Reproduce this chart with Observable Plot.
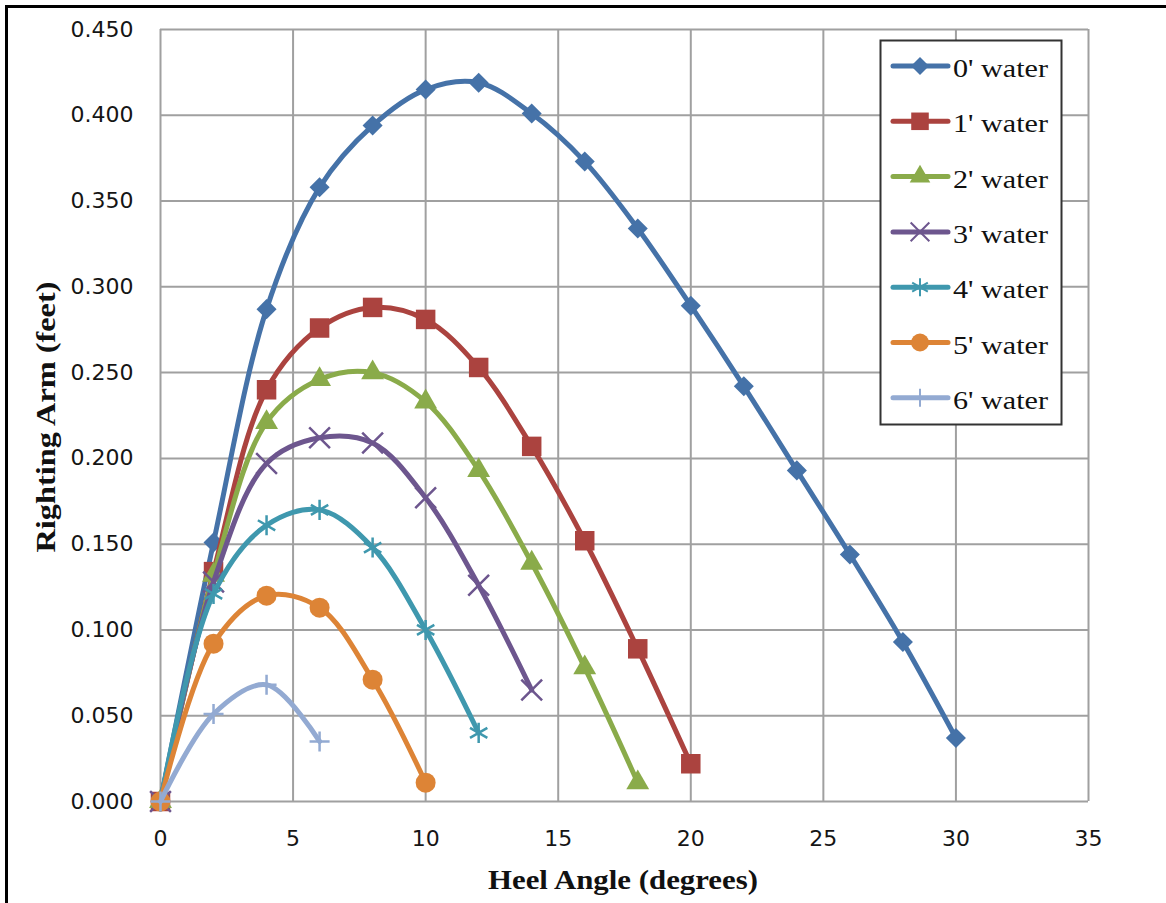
<!DOCTYPE html>
<html>
<head>
<meta charset="utf-8">
<script src="https://cdn.jsdelivr.net/npm/d3@7"></script>
<script src="https://cdn.jsdelivr.net/npm/@observablehq/plot@0.6"></script>
<style>
  html, body { margin: 0; padding: 0; background: #fff; }
  #wrap { position: relative; width: 1166px; height: 903px; overflow: hidden; background: #fff; }
  #wrap > svg { position: absolute; left: 0; top: 0; }
  #frame { position: absolute; left: 5px; top: 5px; width: 1161px; height: 898px;
           border-top: 3px solid #000; border-left: 3px solid #000; box-sizing: border-box; pointer-events: none; }
</style>
</head>
<body>
<div id="wrap"><div id="frame"></div></div>
<script>
// ---- data ----
const angles = [0, 2, 4, 6, 8, 10, 12, 14, 16, 18, 20, 22, 24, 26, 28, 30];
const water0 = [0, 0.151, 0.287, 0.358, 0.394, 0.415, 0.419, 0.401, 0.373, 0.334, 0.289, 0.242, 0.193, 0.144, 0.093, 0.037];
const water1 = [0, 0.134, 0.240, 0.276, 0.288, 0.281, 0.253, 0.207, 0.152, 0.089, 0.022];
const water2 = [0, 0.132, 0.221, 0.246, 0.250, 0.233, 0.193, 0.139, 0.078, 0.011];
const water3 = [0, 0.128, 0.197, 0.212, 0.209, 0.177, 0.126, 0.065];
const water4 = [0, 0.121, 0.161, 0.170, 0.148, 0.100, 0.040];
const water5 = [0, 0.092, 0.120, 0.113, 0.071, 0.011];
const water6 = [0, 0.051, 0.068, 0.035];
const seriesNames = ["0' water", "1' water", "2' water", "3' water", "4' water", "5' water", "6' water"];
const xTicks = [0, 5, 10, 15, 20, 25, 30, 35];
const yTicks = [0, 0.05, 0.10, 0.15, 0.20, 0.25, 0.30, 0.35, 0.40, 0.45];
const xLabel = "Heel Angle (degrees)";
const yLabel = "Righting Arm (feet)";

// ---- styles ----
const seriesValues = [water0, water1, water2, water3, water4, water5, water6];
const colors = ["#4572a8", "#ab433f", "#8aab4a", "#6d568e", "#3f98ae", "#dd8436", "#93aad2"];
const diamond = {
  draw(ctx, size) {
    const r = Math.sqrt(size / 2);
    ctx.moveTo(0, -r); ctx.lineTo(r, 0); ctx.lineTo(0, r); ctx.lineTo(-r, 0); ctx.closePath();
  }
};
const markers = [
  {symbol: diamond, r: 8, filled: true},
  {symbol: "square", r: 11, filled: true},
  {symbol: "triangle", r: 8.5, filled: true},
  {symbol: "times", r: 9.5, filled: false},
  {symbol: "asterisk", r: 9.5, filled: false},
  {symbol: "circle", r: 10, filled: true},
  {symbol: "plus", r: 6.5, filled: false}
];

const marks = [
  Plot.ruleX(xTicks, {stroke: "#a0a0a0", strokeWidth: 2}),
  Plot.ruleY(yTicks, {stroke: "#a0a0a0", strokeWidth: 2})
];
seriesValues.forEach((vals, i) => {
  const rows = vals.map((v, j) => ({angle: angles[j], arm: v}));
  const c = colors[i], m = markers[i];
  marks.push(Plot.line(rows, {x: "angle", y: "arm", stroke: c, strokeWidth: 5, curve: "catmull-rom", strokeLinecap: "round"}));
  marks.push(Plot.dot(rows, m.filled
    ? {x: "angle", y: "arm", symbol: m.symbol, r: m.r, fill: c, stroke: "none"}
    : {x: "angle", y: "arm", symbol: m.symbol, r: m.r, fill: "none", stroke: c, strokeWidth: 2.5}));
});

const chart = Plot.plot({
  width: 1166,
  height: 903,
  marginLeft: 160,
  marginRight: 78,
  marginTop: 29,
  marginBottom: 102,
  style: {fontFamily: "DejaVu Sans", fontSize: "22px", color: "#151515", background: "transparent"},
  x: {domain: [0, 35], ticks: xTicks, tickSize: 0, tickPadding: 29, label: null},
  y: {domain: [0, 0.45], ticks: yTicks, tickSize: 0, tickPadding: 27, tickFormat: d3.format(".3f"), label: null},
  marks
});
document.getElementById("wrap").insertBefore(chart, document.getElementById("frame"));

const svg = d3.select(chart);
svg.selectAll("text").attr("font-size", 22).attr("font-family", "DejaVu Sans");
svg.append("text")
  .attr("x", 623).attr("y", 889)
  .attr("text-anchor", "middle")
  .attr("font-family", "Liberation Serif").attr("font-weight", "bold").attr("font-size", 27)
  .attr("fill", "#111")
  .attr("textLength", 270).attr("lengthAdjust", "spacingAndGlyphs")
  .text(xLabel);
svg.append("text")
  .attr("transform", "translate(55,417) rotate(-90)")
  .attr("text-anchor", "middle")
  .attr("font-family", "Liberation Serif").attr("font-weight", "bold").attr("font-size", 27)
  .attr("fill", "#111")
  .attr("textLength", 271).attr("lengthAdjust", "spacingAndGlyphs")
  .text(yLabel);

// ---- legend ----
const leg = d3.select("#wrap").append("svg")
  .attr("width", 1166).attr("height", 903)
  .style("position", "absolute").style("left", 0).style("top", 0).style("pointer-events", "none");
leg.append("rect").attr("x", 880.5).attr("y", 40.5).attr("width", 181).attr("height", 384)
  .attr("fill", "#fff").attr("stroke", "#333").attr("stroke-width", 2);
seriesNames.forEach((name, i) => {
  const cy = 66 + i * 55.3;
  const c = colors[i], m = markers[i];
  leg.append("line").attr("x1", 893).attr("x2", 948).attr("y1", cy).attr("y2", cy)
    .attr("stroke", c).attr("stroke-width", 5).attr("stroke-linecap", "round");
  const sym = typeof m.symbol === "string"
    ? ({square: d3.symbolSquare, triangle: d3.symbolTriangle, times: d3.symbolTimes, asterisk: d3.symbolAsterisk, circle: d3.symbolCircle, plus: d3.symbolPlus})[m.symbol]
    : m.symbol;
  const rr = m.r * 0.9;
  const p = leg.append("path").attr("transform", `translate(920,${cy})`)
    .attr("d", d3.symbol(sym, Math.PI * rr * rr)());
  if (m.filled) p.attr("fill", c); else p.attr("fill", "none").attr("stroke", c).attr("stroke-width", 2);
  leg.append("text").attr("x", 953).attr("y", cy + 11)
    .attr("font-family", "Liberation Serif").attr("font-size", 26).attr("fill", "#111")
    .attr("textLength", 95).attr("lengthAdjust", "spacingAndGlyphs")
    .text(name);
});
</script>
</body>
</html>
